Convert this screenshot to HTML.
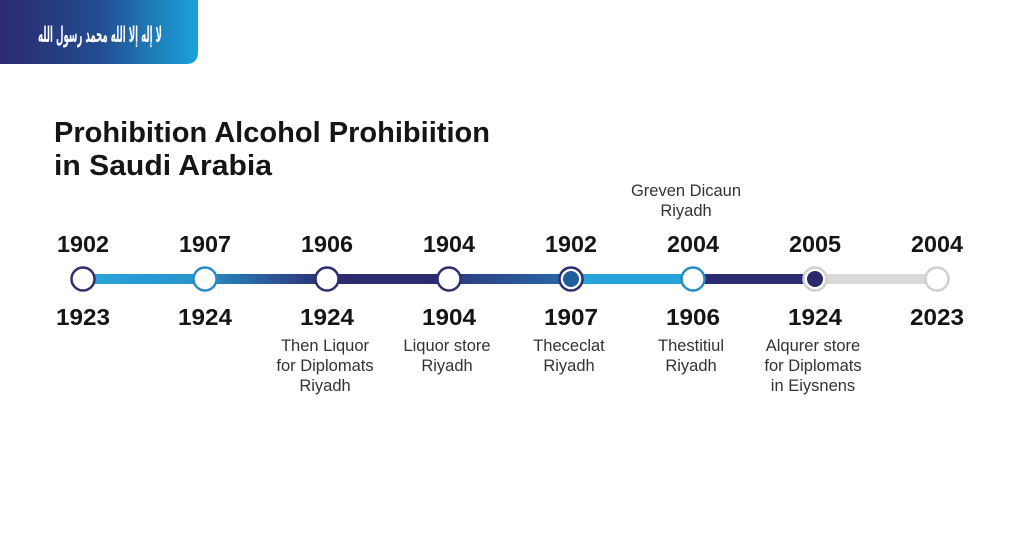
<!DOCTYPE html>
<html><head><meta charset="utf-8"><style>
html,body{margin:0;padding:0;background:#fff;width:1024px;height:559px;overflow:hidden}
svg{display:block}
</style></head><body>
<svg width="1024" height="559" viewBox="0 0 1024 559" xmlns="http://www.w3.org/2000/svg" font-family="Liberation Sans, sans-serif">
<defs>
<linearGradient id="badge" x1="0" x2="1" y1="0" y2="0"><stop offset="0" stop-color="#2b2a6e"/><stop offset="0.5" stop-color="#244c92"/><stop offset="1" stop-color="#1aa3da"/></linearGradient>
<linearGradient id="g1" x1="0" x2="1"><stop offset="0" stop-color="#2aa6db"/><stop offset="1" stop-color="#2891c9"/></linearGradient>
<linearGradient id="g2" x1="0" x2="1"><stop offset="0" stop-color="#2a8cc4"/><stop offset="1" stop-color="#2c2d72"/></linearGradient>
<linearGradient id="g4" x1="0" x2="1"><stop offset="0" stop-color="#2c3b80"/><stop offset="1" stop-color="#2a6aa8"/></linearGradient>
<clipPath id="bclip"><path d="M0 0H198V52Q198 64 186 64H0Z"/></clipPath>
</defs>
<g>
<path d="M0 0H198V52Q198 64 186 64H0Z" fill="url(#badge)"/>
<text x="100" y="42" text-anchor="middle" font-size="22" fill="#fff" font-family="DejaVu Sans, sans-serif" font-weight="bold" textLength="124" lengthAdjust="spacingAndGlyphs" clip-path="url(#bclip)">لا إله إلا الله محمد رسول الله</text>
</g>
<g font-weight="bold" fill="#151515">
<text x="54" y="142" font-size="29" textLength="436" lengthAdjust="spacingAndGlyphs">Prohibition Alcohol Prohibiition</text>
<text x="54" y="175" font-size="29" textLength="218" lengthAdjust="spacingAndGlyphs">in Saudi Arabia</text>
</g>
<g id="line"></g>
<g id="nodes"></g>
<g id="labels"></g>
</svg>
<script>
const topYears=["1902","1907","1906","1904","1902","2004","2005","2004"];
const bottomYears=["1923","1924","1924","1904","1907","1906","1924","2023"];
const descriptions=[[],[],["Then Liquor","for Diplomats","Riyadh"],["Liquor store","Riyadh"],["Thececlat","Riyadh"],["Thestitiul","Riyadh"],["Alqurer store","for Diplomats","in Eiysnens"],[]];
const aboveNote=["Greven Dicaun","Riyadh"];
const NS="http://www.w3.org/2000/svg";
const x0=83,x1=937,lineY=279;
const n=topYears.length;
function xAt(i){return x0+(x1-x0)*i/(n-1);}
function mk(tag,attrs,parent){const e=document.createElementNS(NS,tag);for(const k in attrs)e.setAttribute(k,attrs[k]);parent.appendChild(e);return e;}
const segFills=["url(#g1)","url(#g2)","#2c2b6f","url(#g4)","#27a3d9","#2c2b70","#d9d9d9"];
const lineG=document.getElementById('line');
for(let i=0;i<n-1;i++){
 const r=mk('rect',{x:xAt(i),y:lineY-5,width:xAt(i+1)-xAt(i),height:10,fill:segFills[i]},lineG);
 
 
}
const nodesG=document.getElementById('nodes');
for(let i=0;i<n;i++){
 const x=xAt(i);
 let stroke=i<6?"#2c2f72":"#cfcfcf",fill="#fff";
 if(i===1||i===5)stroke="#2a8cc4";
 const c=mk('circle',{cx:x,cy:lineY,r:11.5,fill:fill,stroke:stroke,'stroke-width':2.5},nodesG);
 
 
 if(i===4){const d=mk('circle',{cx:x,cy:lineY,r:8,fill:"#1f5e9c"},nodesG);}
 if(i===6){const d=mk('circle',{cx:x,cy:lineY,r:8,fill:"#2b2a6e"},nodesG);}
}
const lg=document.getElementById('labels');
for(let i=0;i<n;i++){
 const x=xAt(i);
 const t=mk('text',{x:x,y:252,'text-anchor':'middle','font-size':23,'font-weight':'bold',fill:'#151515',textLength:52,lengthAdjust:'spacingAndGlyphs'},lg);
 t.textContent=topYears[i];
 
 
 const b=mk('text',{x:x,y:325,'text-anchor':'middle','font-size':23,'font-weight':'bold',fill:'#151515',textLength:54,lengthAdjust:'spacingAndGlyphs'},lg);
 b.textContent=bottomYears[i];
 
 
 descriptions[i].forEach((s,k)=>{
  const d=mk('text',{x:x-2,y:351+k*20,'text-anchor':'middle','font-size':16.5,fill:'#333'},lg);
  d.textContent=s;
  
  
 });
}
aboveNote.forEach((s,k)=>{
 const d=mk('text',{x:xAt(5)-7,y:196+k*20,'text-anchor':'middle','font-size':16.5,fill:'#333'},lg);
 d.textContent=s;
 
 
});
</script>
</body></html>
